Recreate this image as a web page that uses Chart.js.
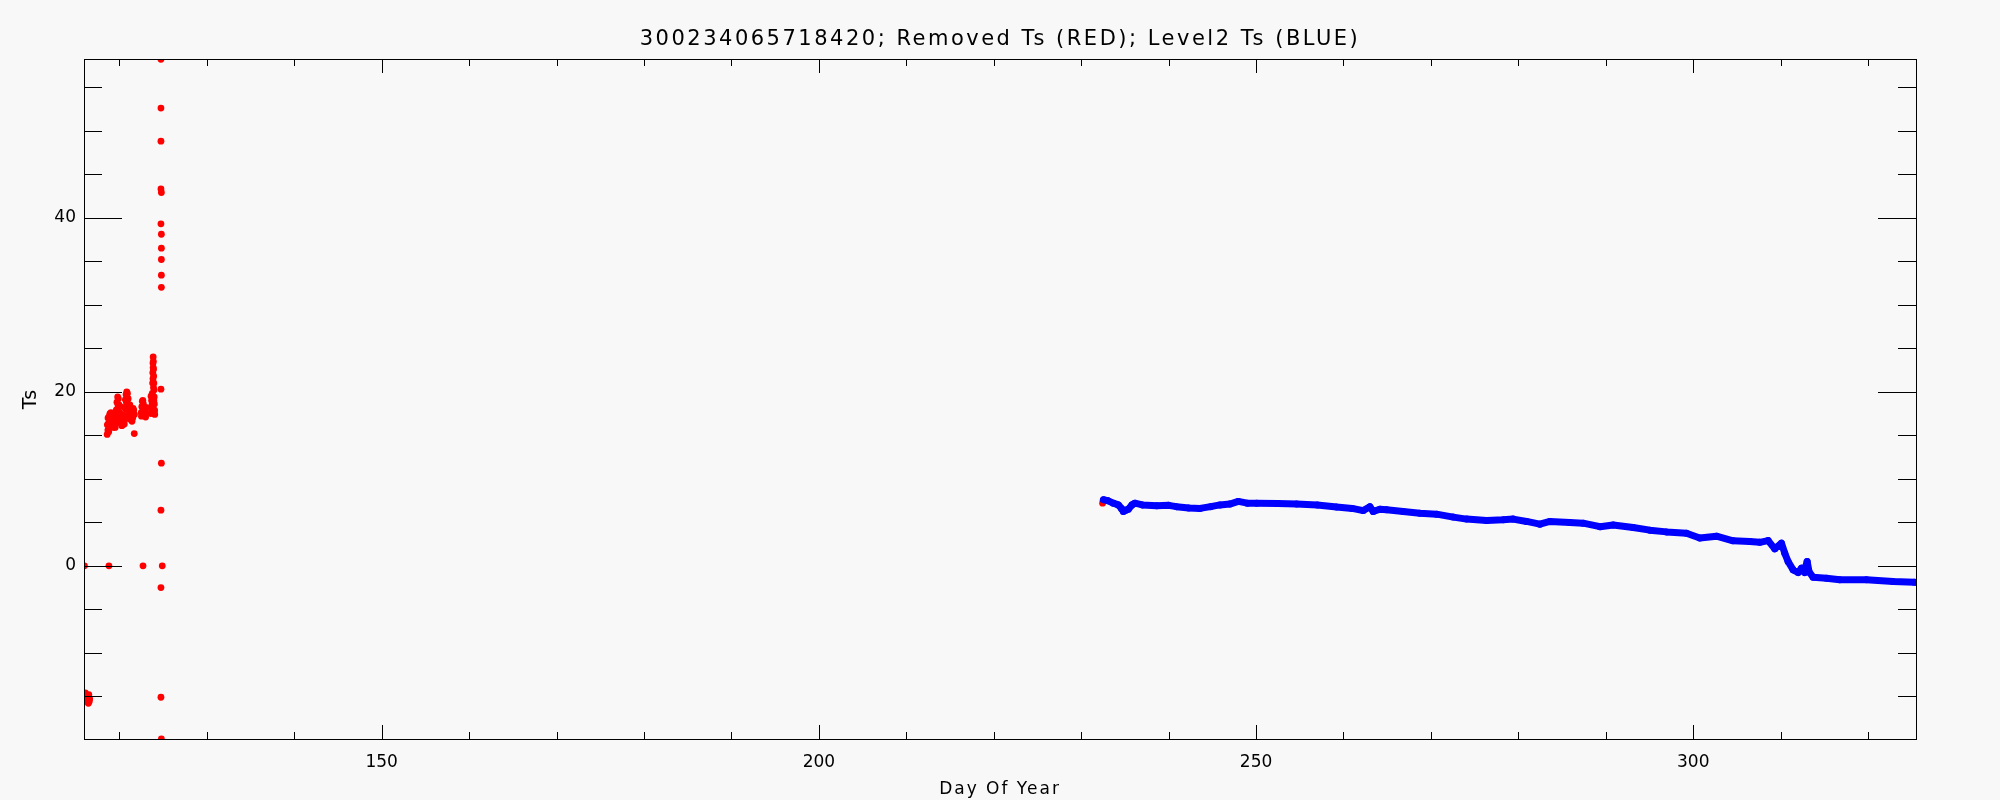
<!DOCTYPE html>
<html>
<head>
<meta charset="utf-8">
<script src="https://cdn.jsdelivr.net/npm/chart.js@4.4.1/dist/chart.umd.min.js"></script>
<style>
  html, body { margin: 0; padding: 0; background: #f8f8f8; }
  #wrap { width: 2000px; height: 800px; position: relative; }
</style>
</head>
<body>
<div id="wrap"><canvas id="tsChart"></canvas></div>
<script>
const TITLE = "300234065718420; Removed Ts (RED); Level2 Ts (BLUE)";
const X_TITLE = "Day Of Year";
const Y_TITLE = "Ts";

const X_RANGE = [115.95, 325.48];
const Y_RANGE = [-19.9, 58.24];

// removed Ts (red)
const removedDay = [
  116.05, 116.2, 116.3, 116.4, 116.5, 116.6, 116.3, 116.55, 116.1, 116.45,
  116.0, 118.8, 122.7, 124.9,
  124.75, 124.75, 124.75, 124.75, 124.8, 124.75, 124.8, 124.8, 124.8, 124.8, 124.8, 124.75, 124.8, 124.75, 124.75, 124.75, 124.8,
  121.7,
  118.60, 118.68, 118.76, 118.84, 118.92, 119.00, 119.08, 119.16, 119.24, 119.32,
  119.40, 119.48, 119.56, 119.64, 119.72, 119.80, 119.88, 119.96, 120.04, 120.12,
  120.20, 120.28, 120.36, 120.44, 120.52, 120.60, 120.68, 120.76, 120.84, 120.92,
  121.00, 121.08, 121.16, 121.24, 121.32, 121.40, 121.48, 121.56, 121.64, 121.72,
  118.62, 118.70, 118.78, 118.88, 118.96, 119.04, 119.20, 119.36, 119.52, 119.60,
  119.70, 119.76, 119.84, 119.92, 120.00, 120.08, 120.16, 120.40, 120.56, 120.64,
  120.72, 120.80, 120.88, 120.96, 121.04, 121.12, 121.20, 121.44, 121.52,
  122.50, 122.56, 122.62, 122.68, 122.74, 122.80, 122.86, 122.92, 122.98, 123.04,
  122.52, 122.65, 122.72, 122.90, 123.00,
  123.60, 123.64, 123.68, 123.72, 123.76, 123.80, 123.82, 123.84, 123.86,
  123.88, 123.90, 123.92, 123.94, 123.96, 123.98, 124.00, 124.02, 124.04,
  123.62, 123.70, 123.80, 123.84, 123.86, 123.90, 123.94, 124.00,
  232.45, 232.5
];
const removedTs = [
  -15.2, -14.8, -15.6, -15.0, -14.8, -15.3, -15.2, -15.6, -14.6, -15.8,
  0, 0, 0, 0,
  58.2, 52.6, 48.8, 43.3, 42.9, 39.3, 38.1, 36.5, 35.2, 33.4, 32.0, 20.3, 11.8, 6.4, -2.5, -15.1, -19.9,
  15.2,
  15.1, 15.6, 16.4, 17.2, 17.5, 17.3, 16.9, 16.4, 16.0, 15.9,
  16.0, 16.3, 17.0, 17.9, 18.8, 19.4, 19.2, 18.5, 17.6, 16.8,
  16.3, 16.1, 16.2, 16.6, 17.3, 18.2, 19.1, 19.7, 20.0, 19.8,
  19.2, 18.4, 17.6, 17.0, 16.8, 17.0, 17.5, 18.1, 17.9, 17.4,
  16.2, 17.0, 15.4, 16.3, 16.6, 17.6, 17.0, 16.8, 15.9, 16.5,
  17.5, 18.0, 18.5, 17.4, 16.6, 18.3, 17.3, 17.2, 16.3, 17.0,
  18.0, 18.8, 19.0, 18.0, 17.2, 16.9, 18.5, 16.6, 17.0,
  17.6, 18.3, 18.9, 19.0, 18.6, 18.0, 17.5, 17.4, 17.8, 18.2,
  17.2, 18.2, 17.5, 18.0, 17.1,
  17.5, 18.2, 19.0, 18.5, 19.8, 21.0, 22.2, 23.3, 24.0,
  23.5, 22.6, 21.8, 21.0, 20.2, 19.4, 18.6, 17.9, 17.4,
  19.5, 17.8, 18.3, 21.5, 22.8, 20.5, 19.0, 17.8,
  7.2, 7.5
];

// level2 Ts (blue)
const level2Day = [
  232.55, 233.0, 233.67, 234.25, 234.6, 234.82, 235.1, 235.39, 235.8, 236.15,
  237.0, 238.64, 240.0, 240.92, 242.3, 243.59, 244.8, 245.87, 247.0, 247.97,
  249.0, 250.07, 252.5, 254.64, 257.0, 259.22, 261.0, 262.26, 263.02, 263.4,
  264.17, 264.93, 266.83, 268.74, 270.65, 272.55, 274.08, 276.37, 278.27, 279.41,
  280.94, 282.46, 283.61, 285.89, 287.41, 289.33, 290.85, 293.13, 295.04, 296.95,
  299.23, 300.75, 302.66, 304.56, 306.47, 307.61, 308.57, 309.33, 310.09, 310.47,
  310.85, 311.42, 312.0, 312.38, 312.76, 312.9, 313.03, 313.25, 313.71, 315.24,
  316.76, 319.81, 322.86, 325.3
];
const level2Ts = [
  7.6, 7.5, 7.2, 7.0, 6.6, 6.25, 6.4, 6.5, 7.0, 7.2,
  7.0, 6.9, 6.95, 6.8, 6.65, 6.6, 6.8, 7.0, 7.1, 7.4,
  7.2, 7.2, 7.15, 7.1, 7.0, 6.75, 6.6, 6.35, 6.8, 6.25,
  6.5, 6.44, 6.25, 6.05, 5.94, 5.6, 5.37, 5.2, 5.29, 5.37,
  5.1, 4.79, 5.1, 4.98, 4.9, 4.5, 4.7, 4.4, 4.1, 3.9,
  3.75, 3.2, 3.4, 2.87, 2.8, 2.7, 2.9, 1.95, 2.6, 1.45,
  0.5, -0.46, -0.77, -0.27, -0.77, 0.0, 0.5, -0.7, -1.3, -1.42,
  -1.6, -1.6, -1.8, -1.9
];

const FONT = "'DejaVu Sans', sans-serif";

function isMajor(v, step) {
  return Math.abs(v / step - Math.round(v / step)) < 1e-6;
}

function drawTickMarks(ctx, area, x, y) {
  ctx.beginPath();
  x.ticks.forEach((t) => {
    const px = Math.round(x.getPixelForValue(t.value)) + 0.5;
    const len = isMajor(t.value, 50) ? 14 : 7;
    ctx.moveTo(px, area.bottom); ctx.lineTo(px, area.bottom - len);
    ctx.moveTo(px, area.top); ctx.lineTo(px, area.top + len);
  });
  y.ticks.forEach((t) => {
    const py = Math.round(y.getPixelForValue(t.value)) + 0.5;
    const len = isMajor(t.value, 20) ? 38 : 18;
    ctx.moveTo(area.left, py); ctx.lineTo(area.left + len, py);
    ctx.moveTo(area.right, py); ctx.lineTo(area.right - len, py);
  });
  ctx.stroke();
}

const idlFrame = {
  id: "idlFrame",
  beforeDraw(chart) {
    const ctx = chart.ctx;
    ctx.save();
    ctx.fillStyle = "#f8f8f8";
    ctx.fillRect(0, 0, chart.width, chart.height);
    ctx.restore();
  },
  afterDatasetsDraw(chart) {
    const { ctx, chartArea: a, scales: { x, y } } = chart;
    ctx.save();
    ctx.strokeStyle = "#000";
    ctx.lineWidth = 1;
    const l = Math.round(a.left) + 0.5, r = Math.round(a.right) + 0.5;
    const t = Math.round(a.top) + 0.5, b = Math.round(a.bottom) + 0.5;
    ctx.strokeRect(l, t, r - l, b - t);
    drawTickMarks(ctx, a, x, y);

    ctx.fillStyle = "#000";
    ctx.textAlign = "center";
    ctx.textBaseline = "alphabetic";
    ctx.font = "21px " + FONT;
    ctx.letterSpacing = "2.5px";
    ctx.fillText(TITLE, (a.left + a.right) / 2, 45);

    ctx.font = "17px " + FONT;
    ctx.letterSpacing = "2px";
    ctx.fillText(X_TITLE, (a.left + a.right) / 2, 794);

    ctx.letterSpacing = "1px";
    ctx.font = "19px " + FONT;
    ctx.translate(36, (a.top + a.bottom) / 2);
    ctx.rotate(-Math.PI / 2);
    ctx.fillText(Y_TITLE, 0, 0);
    ctx.restore();
  },
};

new Chart(document.getElementById("tsChart"), {
  type: "scatter",
  data: {
    datasets: [
      {
        label: "Level2 Ts",
        data: level2Day.map((d, i) => ({ x: d, y: level2Ts[i] })),
        showLine: true,
        borderColor: "#0000ff",
        backgroundColor: "#0000ff",
        borderWidth: 7,
        borderJoinStyle: "round",
        borderCapStyle: "round",
        pointRadius: 3.5,
        pointBorderWidth: 0,
        clip: 0,
        order: 0,
      },
      {
        label: "Removed Ts",
        data: removedDay.map((d, i) => ({ x: d, y: removedTs[i] })),
        backgroundColor: "#ff0000",
        borderColor: "#ff0000",
        pointRadius: 3.4,
        pointBorderWidth: 0,
        clip: 0,
        order: 1,
      },
    ],
  },
  options: {
    responsive: true,
    maintainAspectRatio: false,
    animation: false,
    layout: { padding: { top: 59, right: 84, bottom: 0, left: 0 } },
    plugins: { legend: { display: false }, tooltip: { enabled: false }, title: { display: false } },
    scales: {
      x: {
        type: "linear",
        min: X_RANGE[0],
        max: X_RANGE[1],
        grid: { display: false, drawTicks: false },
        border: { display: false },
        ticks: {
          stepSize: 10,
          includeBounds: false,
          autoSkip: false,
          maxRotation: 0,
          padding: 13,
          color: "#000",
          font: { family: FONT, size: 17 },
          callback: (v) => (isMajor(v, 50) ? String(Math.round(v)) : ""),
        },
        afterFit: (s) => { s.height = 61; },
      },
      y: {
        type: "linear",
        min: Y_RANGE[0],
        max: Y_RANGE[1],
        grid: { display: false, drawTicks: false },
        border: { display: false },
        ticks: {
          stepSize: 5,
          includeBounds: false,
          autoSkip: false,
          padding: 8,
          color: "#000",
          font: { family: FONT, size: 17 },
          callback: (v) => (isMajor(v, 20) ? String(Math.round(v)) : ""),
        },
        afterFit: (s) => { s.width = 84; },
      },
    },
  },
  plugins: [idlFrame],
});
</script>
</body>
</html>
